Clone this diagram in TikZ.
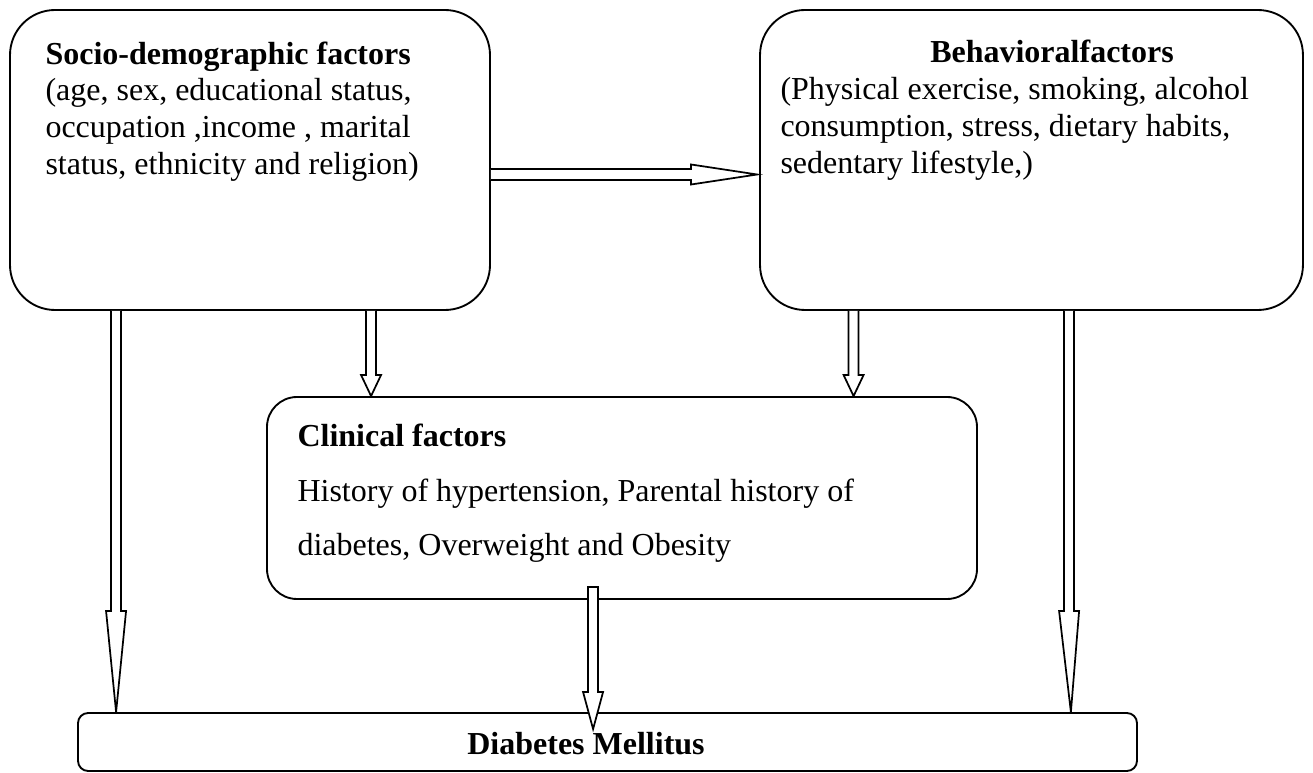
\documentclass[tikz,border=0pt]{standalone}
\usepackage{fontspec}
\setmainfont{Liberation Serif}
\usetikzlibrary{calc}
\newcommand\vblk[4]{% start, tip, head length (pt), extra path end
  \draw[blk] let \p1=(#1), \p2=(#2) in
    (\x1-1.875pt,\y1) -- (\x1-1.875pt,\y2+#3) -- (\x1-3.75pt,\y2+#3) -- (\x2,\y2)
    -- (\x1+3.75pt,\y2+#3) -- (\x1+1.875pt,\y2+#3) -- (\x1+1.875pt,\y1) #4;}
\begin{document}
\begin{tikzpicture}[x=0.375pt,y=-0.375pt,
  box/.style={draw, line width=0.7pt, inner sep=0pt},
  blk/.style={draw, fill=white, line width=0.65pt, line join=miter},
  txt/.style={inner sep=0pt, font=\fontsize{12}{13.75}\selectfont, align=left},
  ttl/.style={inner sep=0pt, font=\fontsize{12}{13.75}\selectfont\bfseries}]
\useasboundingbox (0,0) rectangle (1313,773);
% boxes
\node[box, rounded corners=16.9pt, minimum width=180pt, minimum height=112.5pt] (s) at (250,160) {};
\node[box, rounded corners=16.9pt, minimum width=203.6pt, minimum height=112.5pt] (b) at (1031.5,160) {};
\node[box, rounded corners=11.25pt, minimum width=266.25pt, minimum height=75.75pt] (c) at (622,498) {};
\node[box, rounded corners=3.75pt, minimum width=397.1pt, minimum height=21.75pt] (d) at (607.5,742) {};
% arrow end points
\coordinate (a1s) at ($(s.south west)+(107,0)$);
\coordinate (a1e) at ($(d.north west)+(39,0)$);
\coordinate (a2s) at ($(s.south west)+(362,0)$);
\coordinate (a2e) at ($(c.north west)+(105,0)$);
\coordinate (a3s) at ($(b.south west)+(94.5,0)$);
\coordinate (a3e) at ($(c.north west)+(587.5,0)$);
\coordinate (a4s) at ($(c.south west)+(327,-13)$);
\coordinate (a4e) at ($(d.north west)+(516,17)$);
\coordinate (a5s) at ($(b.south west)+(310,0)$);
\coordinate (a5e) at ($(d.north east)+(-67,0)$);
\coordinate (hs) at ($(s.east)+(0,14.5)$);
\coordinate (he) at ($(b.west)+(-2,14.5)$);
% arrows
\vblk{a1s}{a1e}{37.9pt}{}
\vblk{a2s}{a2e}{7.9pt}{}
\vblk{a3s}{a3e}{7.9pt}{}
\vblk{a4s}{a4e}{13.9pt}{-- cycle}
\vblk{a5s}{a5e}{37.9pt}{}
\draw[blk] let \p1=(hs), \p2=(he) in
  (\x1,\y1+2.06pt) -- (\x2-24.75pt,\y1+2.06pt) -- (\x2-24.75pt,\y1+3.75pt) -- (\x2,\y2)
  -- (\x2-24.75pt,\y1-3.75pt) -- (\x2-24.75pt,\y1-2.06pt) -- (\x1,\y1-2.06pt);
% texts
\node[txt, anchor=north west] (st) at (45,41) {\textbf{Socio-demographic factors}\\(age, sex, educational status,\\occupation ,income , marital\\status, ethnicity and religion)};
\node[ttl, anchor=base] (bt) at (1052,63) {Behavioralfactors};
\node[txt, anchor=north west] (bx) at (780,77) {(Physical exercise, smoking, alcohol\\consumption, stress, dietary habits,\\sedentary lifestyle,)};
\node[ttl, anchor=base west] (ct) at (297,447) {Clinical factors};
\node[txt, anchor=north west, font=\fontsize{12}{20.6}\selectfont] (cx) at (297,478) {History of hypertension, Parental history of\\diabetes, Overweight and Obesity};
\node[ttl, anchor=base] (dt) at (586,755) {Diabetes Mellitus};
\end{tikzpicture}
\end{document}
